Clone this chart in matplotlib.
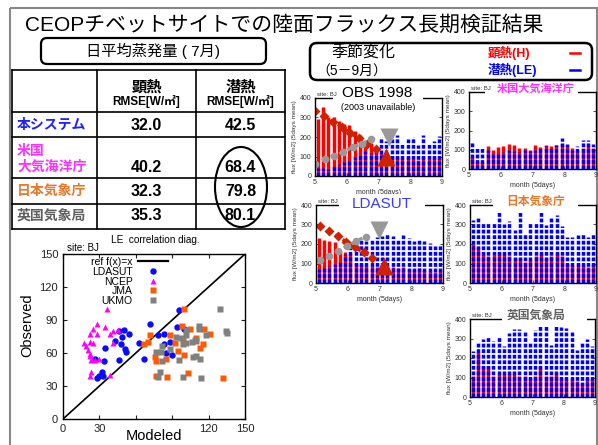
import numpy as np
import matplotlib
matplotlib.use('Agg')
import matplotlib.pyplot as plt
from matplotlib.patches import FancyBboxPatch, Ellipse, Rectangle
from matplotlib.lines import Line2D
from matplotlib.legend import Legend

plt.rcParams['font.family'] = ['Liberation Sans', 'Noto Sans CJK JP', 'DejaVu Sans']

# ---------------- data ----------------
title = 'CEOPチベットサイトでの陸面フラックス長期検証結果'
table_title = '日平均蒸発量 ( 7月)'
col_heads = ['顕熱', '潜熱']
col_units = 'RMSE[W/㎡]'
row_labels = ['本システム', '米国\n大気海洋庁', '日本気象庁', '英国気象局']
row_colors = ['#2020ff', '#ff30ff', '#e8782a', '#606060']
sensible_rmse = [32.0, 40.2, 32.3, 35.3]
latent_rmse = [42.5, 68.4, 79.8, 80.1]

# LE correlation diagram (Modeled, Observed)
ldasut_x = [96, 72, 94, 100, 50, 46, 54, 49, 43, 78, 83, 63, 83, 88, 48, 35, 51, 52, 85, 90, 26, 67, 46, 34, 32, 30, 33, 28]
ldasut_y = [99, 86, 84, 82, 81, 80, 77, 75, 71, 76, 77, 69, 68, 70, 68, 65, 64, 61, 60, 58, 55, 55, 54, 53, 43, 39, 39, 37]
ncep_x = [36, 28, 25, 35, 22, 28, 41, 39, 17, 19, 22, 25, 21, 22, 22, 23, 26, 30, 23, 22, 39, 41, 45]
ncep_y = [100, 86, 82, 84, 77, 77, 80, 77, 69, 66, 70, 69, 63, 59, 57, 54, 54, 55, 43, 39, 40, 69, 81]
jma_x = [100, 98, 105, 116, 72, 88, 99, 110, 121, 70, 92, 67, 115, 113, 76, 77, 100, 85, 77, 86, 103, 132, 95]
jma_y = [100, 85, 82, 82, 76, 76, 73, 74, 77, 70, 69, 68, 68, 65, 56, 53, 58, 55, 39, 38, 42, 37, 62]
ukmo_x = [129, 112, 112, 134, 135, 101, 97, 101, 118, 109, 106, 110, 99, 101, 82, 88, 77, 81, 96, 82, 107, 110, 113, 80, 78, 99, 114, 93]
ukmo_y = [100, 85, 82, 80, 78, 81, 74, 76, 76, 72, 70, 71, 68, 69, 66, 64, 61, 61, 54, 53, 56, 57, 55, 43, 38, 38, 37, 75]

# seasonal change panels: 5-day means, May..Aug (24 pentads)
obs_H = [290, 355, 305, 300, 280, 265, 260, 230, 210, 180, 170, 130, 120, 110, 105, 95, 90, 100, 85, 80, 95, 85, 100, 90]
obs_LE = [40, 40, 35, 50, 60, 70, 80, 100, 110, 130, 120, 150, 200, 180, 190, 210, 170, 190, 200, 160, 210, 170, 180, 205]
noaa_H = [60, 40, 35, 120, 100, 115, 120, 130, 125, 110, 110, 100, 125, 115, 125, 120, 125, 130, 120, 110, 100, 110, 120, 110]
noaa_LE = [140, 110, 110, 100, 85, 80, 90, 100, 95, 90, 100, 95, 100, 110, 120, 115, 125, 160, 130, 100, 120, 150, 150, 130]
ldasut_H = [230, 220, 215, 210, 165, 160, 150, 105, 95, 85, 85, 80, 75, 85, 80, 75, 80, 70, 65, 75, 65, 60, 55, 60]
ldasut_LE = [70, 80, 85, 100, 110, 150, 180, 215, 220, 215, 225, 235, 240, 250, 240, 220, 245, 230, 215, 220, 215, 205, 190, 200]
jma_H = [200, 185, 150, 140, 145, 160, 150, 140, 130, 130, 110, 120, 140, 150, 130, 140, 150, 140, 100, 90, 100, 90, 80, 100]
jma_LE = [323, 332, 306, 306, 315, 366, 300, 320, 270, 366, 257, 306, 315, 366, 298, 332, 349, 290, 238, 238, 247, 255, 238, 255]
ukmo_H = [110, 230, 160, 160, 110, 120, 120, 120, 120, 110, 110, 100, 110, 160, 110, 110, 120, 100, 90, 90, 80, 70, 100, 90]
ukmo_LE = [234, 280, 297, 315, 289, 315, 263, 328, 349, 349, 335, 277, 342, 362, 371, 268, 371, 359, 352, 335, 243, 280, 297, 260]

# trend annotations (month, flux)
obs_Htrend_x = [5.0, 5.29, 5.56, 5.84, 6.1, 6.38, 6.65, 6.93]
obs_Htrend_y = [334, 307, 279, 252, 221, 193, 166, 136]
obs_LEtrend_x = [5.0, 5.31, 5.6, 5.89, 6.19, 6.48, 6.76]
obs_LEtrend_y = [60, 86, 102, 124, 148, 166, 188]
obs_arrows = [(7.24, 100), (7.32, 200)]
lda_Htrend_x = [5.13, 5.41, 5.68, 5.95, 6.22, 6.5, 6.77]
lda_Htrend_y = [294, 265, 240, 212, 183, 157, 130]
lda_LEtrend_x = [5.13, 5.42, 5.7, 5.99, 6.26, 6.56]
lda_LEtrend_y = [119, 141, 165, 190, 214, 238]
lda_arrows = [(7.13, 85), (6.97, 272)]

# ---------------- figure ----------------
W, H = 598, 445
fig = plt.figure(figsize=(W / 100, H / 100), dpi=100)
ax0 = fig.add_axes([0, 0, 1, 1], zorder=-1)
ax0.set_xlim(0, W)
ax0.set_ylim(H, 0)
ax0.axis('off')


def add_ax(x0, y0, x1, y1):
    return fig.add_axes([x0 / W, 1 - y1 / H, (x1 - x0) / W, (y1 - y0) / H])


def ptext(x, y, s, **kw):
    kw.setdefault('ha', 'center')
    kw.setdefault('va', 'center')
    return fig.text(x / W, 1 - y / H, s, **kw)


def white(x0, y0, x1, y1):
    fig.add_artist(Rectangle((x0, y0), x1 - x0, y1 - y0, transform=ax0.transData,
                             facecolor='white', edgecolor='none', zorder=2))


# slide border
ax0.add_patch(Rectangle((10, 8), 587, 445, fill=False, edgecolor='#888888', lw=1.5))

# title
ptext(284, 25, title, fontsize=15)

# table title box
ax0.add_patch(FancyBboxPatch((41, 38), 225, 26, boxstyle='round,pad=0,rounding_size=6',
                             fill=False, edgecolor='black', lw=1.6))
ptext(153, 51, table_title, fontsize=11)

# table grid
tx = [12, 97, 196, 285]
ty = [70, 112, 137, 178, 204, 229]
for x in tx:
    ax0.plot([x, x], [ty[0], ty[-1]], color='black', lw=1.2)
for y in ty:
    ax0.plot([tx[0], tx[-1]], [y, y], color='black', lw=1.2)
ccx = [(tx[1] + tx[2]) / 2, (tx[2] + tx[3]) / 2]
for j in range(2):
    ptext(ccx[j], 87, col_heads[j], fontsize=11, fontweight='bold')
    ptext(ccx[j], 101, col_units, fontsize=8.5, fontweight='bold')
row_y = [125, 159, 191, 216]
num_y = [125, 167, 191, 216]
for i in range(4):
    ptext(17, row_y[i], row_labels[i], ha='left', fontsize=10, fontweight='bold',
          color=row_colors[i], linespacing=1.15)
    ptext(ccx[0], num_y[i], f'{sensible_rmse[i]:.1f}', fontsize=11.5, fontweight='bold')
    ptext(ccx[1], num_y[i], f'{latent_rmse[i]:.1f}', fontsize=11.5, fontweight='bold')
ax0.add_patch(Ellipse((241, 187), 52, 80, fill=False, edgecolor='black', lw=1.5))

# seasonal box
ax0.add_patch(FancyBboxPatch((310, 43), 282, 37, boxstyle='round,pad=0,rounding_size=7',
                             fill=False, edgecolor='black', lw=1.8))
ptext(363, 53, '季節変化', fontsize=11.5)
ptext(352, 72, '（5－9月）', fontsize=10)
ptext(488, 53, '顕熱(H)', ha='left', fontsize=9, fontweight='bold', color='#ff0000')
ptext(488, 70, '潜熱(LE)', ha='left', fontsize=9, fontweight='bold', color='#0000ff')
ax0.plot([570, 580], [53, 53], color='#ff0000', lw=1.8)
ax0.plot([570, 580], [70, 70], color='#0000ff', lw=1.8)

# ---------------- scatter ----------------
sa = add_ax(63, 254, 245, 419)
sa.axline((0, 0), slope=1, color='black', lw=1.2)
sa.plot(ldasut_x, ldasut_y, 'o', color='#0a0aff', ms=4.6, mec='none')
sa.plot(ncep_x, ncep_y, '^', color='#ff00ff', ms=4.6, mec='none')
sa.plot(jma_x, jma_y, 's', color='#ff5a00', ms=4.0, mec='none')
sa.plot(ukmo_x, ukmo_y, 's', color='#808080', ms=4.0, mec='none')
sa.set_xlim(0, 150)
sa.set_ylim(0, 150)
sa.set_xticks([0, 30, 60, 90, 120, 150])
sa.set_xticklabels(['0', '30', '', '', '120', '150'])
sa.set_yticks([0, 30, 60, 90, 120, 150])
sa.tick_params(direction='in', top=True, right=True, labelsize=8, length=3, colors='#222222')
for s in sa.spines.values():
    s.set_linewidth(1.0)
sa.set_xlabel('Modeled', fontsize=10.5, va='center')
sa.xaxis.set_label_coords(0.5, -0.10)
sa.set_ylabel('Observed', fontsize=10.5, va='center')
sa.yaxis.set_label_coords(-0.195, 0.57)
leg_handles = [
    Line2D([], [], color='black', lw=1.6),
    Line2D([], [], ls='none', marker='o', color='#0a0aff', ms=4.6, mec='none'),
    Line2D([], [], ls='none', marker='^', color='#ff00ff', ms=4.6, mec='none'),
    Line2D([], [], ls='none', marker='s', color='#ff5a00', ms=4.0, mec='none'),
    Line2D([], [], ls='none', marker='s', color='#808080', ms=4.0, mec='none'),
]
leg_labels = ['ref f(x)=x', 'LDASUT', 'NCEP', 'JMA', 'UKMO']
leg_y = [0.952, 0.891, 0.830, 0.776, 0.715]
for h, lab, yy in zip(leg_handles, leg_labels, leg_y):
    lg = Legend(sa, [h], [lab], loc='center right', bbox_to_anchor=(0.577, yy),
                frameon=False, markerfirst=False, fontsize=7.5, borderpad=0,
                borderaxespad=0, handlelength=2.9, handletextpad=0.5)
    sa.add_artist(lg)
ptext(155, 240, 'LE  correlation diag.', fontsize=7.2)
ptext(67, 248, 'site: BJ', ha='left', fontsize=7)

# ---------------- seasonal panels ----------------
pent = 5 + (np.arange(24) + 0.5) / 6.0


def panel(box, Hv, LEv):
    ax = add_ax(*box)
    ax.vlines(pent, 0, Hv, colors='#ff0000', lw=2.5)
    ax.vlines(pent, 0, LEv, colors='#0000ff', lw=2.5, linestyles=(0, (1.1, 0.5)))
    ax.set_xlim(5, 9)
    ax.set_ylim(0, 400)
    ax.set_xticks([5, 6, 7, 8, 9])
    ax.set_yticks([0, 100, 200, 300, 400])
    ax.tick_params(direction='in', right=True, labelsize=5, length=2, pad=2.5,
                   colors='#333333', width=0.6)
    for s in ax.spines.values():
        s.set_linewidth(1.0)
    ax.set_xlabel('month (5days)', fontsize=5, labelpad=2, color='#333333')
    ax.set_ylabel('flux [W/m2] (5days mean)', fontsize=4.6, labelpad=2, color='#333333')
    ptext(box[0] + 2, box[1] - 1, 'site: BJ', ha='left', va='bottom', fontsize=4.3,
          color='#333333')
    return ax


a1 = panel((315, 98, 442, 176), obs_H, obs_LE)
a2 = panel((469, 92, 596, 169), noaa_H, noaa_LE)
a3 = panel((316, 205, 443, 283), ldasut_H, ldasut_LE)
a4 = panel((470, 205, 596, 283), jma_H, jma_LE)
a5 = panel((470, 319, 595, 397), ukmo_H, ukmo_LE)

for ax, hx, hy, lx, ly, arr in [(a1, obs_Htrend_x, obs_Htrend_y, obs_LEtrend_x, obs_LEtrend_y, obs_arrows),
                                (a3, lda_Htrend_x, lda_Htrend_y, lda_LEtrend_x, lda_LEtrend_y, lda_arrows)]:
    ax.plot(hx, hy, ls=':', lw=2.4, color='#cc2200', marker='D', ms=5.5, mec='none')
    ax.plot(lx, ly, ls=':', lw=2.4, color='#999999', marker='o', ms=5.5, mec='none')
    ax.plot(*arr[0], marker='^', ms=13, color='#cc2200', mec='none')
    ax.plot(*arr[1], marker='v', ms=13, color='#999999', mec='none')

# panel titles over the top frame
white(333, 86, 423, 101)
ptext(377, 93, 'OBS 1998', fontsize=11, zorder=4)
ptext(378, 108, '(2003 unavailable)', fontsize=6.5, zorder=4)
white(485, 83, 578, 96)
ptext(536, 89, '米国大気海洋庁', fontsize=8, fontweight='bold', color='#ff30ff', zorder=4)
white(339, 194, 425, 209)
ptext(382, 204, 'LDASUT', fontsize=11, color='#3a3aff', zorder=4)
white(493, 196, 578, 209)
ptext(536, 202, '日本気象庁', fontsize=8.5, fontweight='bold', color='#e8782a', zorder=4)
white(502, 310, 587, 323)
ptext(536, 316, '英国気象局', fontsize=8.5, fontweight='bold', color='#606060', zorder=4)

fig.savefig('out.png', dpi=100)
